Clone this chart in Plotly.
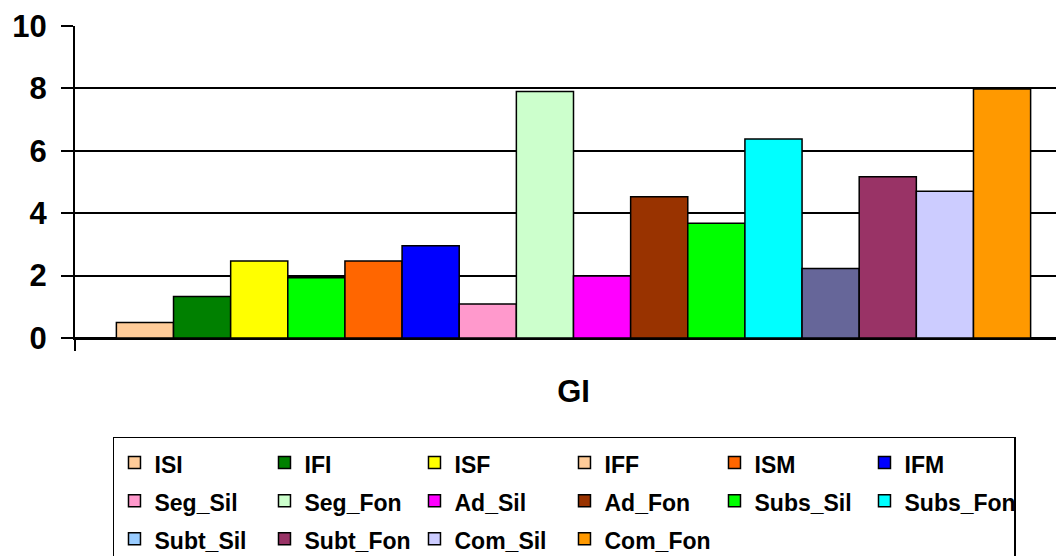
import plotly.graph_objects as go

# Daten
category = ["GI"]
series_names = ["ISI", "IFI", "ISF", "IFF", "ISM", "IFM",
                "Seg_Sil", "Seg_Fon", "Ad_Sil", "Ad_Fon", "Subs_Sil", "Subs_Fon",
                "Subt_Sil", "Subt_Fon", "Com_Sil", "Com_Fon"]
series_values = [0.5, 1.33, 2.47, 1.93, 2.47, 2.96,
                 1.09, 7.9, 1.99, 4.53, 3.68, 6.38,
                 2.23, 5.17, 4.70, 7.98]
y_ticks = [0, 2, 4, 6, 8, 10]

# Balkenfarben (wie im Bild) und Legendenfarben (weichen bei IFF / Subt_Sil ab)
bar_colors = ["#FFCC99", "#008000", "#FFFF00", "#00FF00", "#FF6600", "#0000FF",
              "#FF99CC", "#CCFFCC", "#FF00FF", "#993300", "#00FF00", "#00FFFF",
              "#666699", "#993366", "#CCCCFF", "#FF9900"]
legend_colors = ["#FFCC99", "#008000", "#FFFF00", "#FFCC99", "#FF6600", "#0000FF",
                 "#FF99CC", "#CCFFCC", "#FF00FF", "#993300", "#00FF00", "#00FFFF",
                 "#99CCFF", "#993366", "#CCCCFF", "#FF9900"]

FONT = "Liberation Sans, Arial, sans-serif"

fig = go.Figure()

# echte Balken (ohne Legende)
for name, val, col in zip(series_names, series_values, bar_colors):
    fig.add_trace(go.Bar(x=category, y=[val], name=name, showlegend=False,
                         marker=dict(color=col, line=dict(color="black", width=1.5))))

# Legendeneintraege auf versteckter Achse
# (Legendenschrift 27 -> groesserer Zeilenabstand, Text selbst in 23px)
for name, col in zip(series_names, legend_colors):
    fig.add_trace(go.Bar(x=category, y=[None], xaxis="x2", yaxis="y2",
                         name=f'<span style="font-size:23px">{name}</span>',
                         marker=dict(color=col, line=dict(color="black", width=1.5))))

# Seite hat 8px Rand -> Raender entsprechend kleiner
fig.update_layout(
    width=1064, height=556,
    margin=dict(l=67, r=0, t=18, b=226, autoexpand=False),
    paper_bgcolor="white", plot_bgcolor="white",
    barmode="group", bargap=0.083, bargroupgap=0,
    font=dict(family=FONT, color="black", weight="bold"),
    xaxis=dict(type="category", range=[-0.5, 0.5], tickson="boundaries",
               ticks="outside", ticklen=11, tickwidth=2, tickcolor="black",
               showline=True, linecolor="black", linewidth=2,
               showgrid=False, ticklabelstandoff=25,
               tickfont=dict(size=31, family=FONT, weight="bold")),
    yaxis=dict(range=[0, 10], tickvals=y_ticks, ticks="outside", ticklen=12,
               tickwidth=1.5, tickcolor="black",
               showline=True, linecolor="black", linewidth=2,
               showgrid=True, gridcolor="black", gridwidth=1.5,
               zeroline=True, zerolinecolor="black", zerolinewidth=2,
               ticklabelstandoff=8,
               tickfont=dict(size=31, family=FONT, weight="bold")),
    xaxis2=dict(visible=False, overlaying="x", type="category"),
    yaxis2=dict(visible=False, overlaying="y", range=[0, 10]),
    legend=dict(orientation="h", x=0.0381, y=-0.3173, xanchor="left", yanchor="top",
                entrywidth=105, entrywidthmode="pixels",
                bgcolor="white", bordercolor="black", borderwidth=1.5,
                font=dict(size=27, family=FONT, weight="bold"),
                traceorder="normal"),
)

fig.write_html("out.html")
